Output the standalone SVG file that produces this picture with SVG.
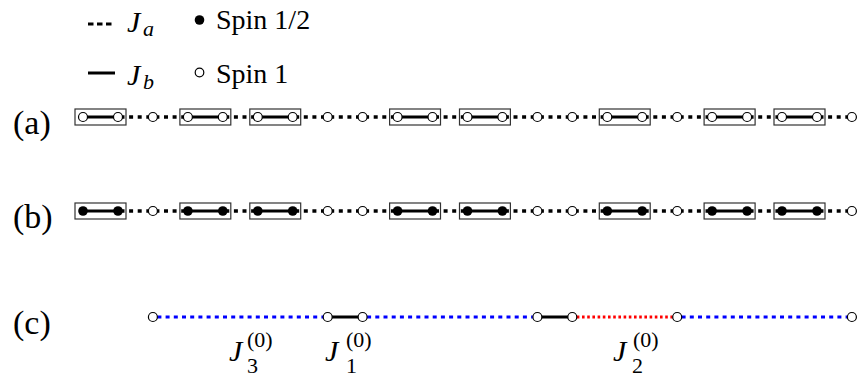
<svg xmlns="http://www.w3.org/2000/svg" width="860" height="379" viewBox="0 0 860 379">
<defs>
<circle id="open" r="4.5" fill="#fff" stroke="#000" stroke-width="1.2"/>
<circle id="full" r="4.8" fill="#000"/>
</defs>
<g id="legend" fill="#000">
<line x1="88" y1="24" x2="112" y2="24" stroke="#000" stroke-width="3" stroke-dasharray="5.5 3.5"/>
<text x="127" y="32" font-family="Liberation Serif" font-size="30" font-style="italic">J</text>
<text x="143" y="36" font-family="Liberation Serif" font-size="22" font-style="italic">a</text>
<circle cx="199.5" cy="20" r="4.8" fill="#000"/>
<text x="216" y="29" font-family="Liberation Serif" font-size="28">Spin 1/2</text>
<line x1="88" y1="73" x2="115" y2="73" stroke="#000" stroke-width="3"/>
<text x="127" y="85" font-family="Liberation Serif" font-size="30" font-style="italic">J</text>
<text x="143" y="89" font-family="Liberation Serif" font-size="22" font-style="italic">b</text>
<circle cx="199.5" cy="72.5" r="4.3" fill="#fff" stroke="#000" stroke-width="1.2"/>
<text x="216" y="83" font-family="Liberation Serif" font-size="28">Spin 1</text>
</g>
<g id="labels" fill="#000">
<text x="13" y="134" font-family="Liberation Serif" font-size="34">(a)</text>
<text x="13" y="228" font-family="Liberation Serif" font-size="34">(b)</text>
<text x="13" y="334" font-family="Liberation Serif" font-size="34">(c)</text>
</g>
<g id="connectors">
<g stroke="#000" stroke-width="3.4" stroke-dasharray="4 4.6" stroke-dashoffset="-2.5" fill="none">
<line x1="118" y1="117" x2="152.9" y2="117"/>
<line x1="152.9" y1="117" x2="187.9" y2="117"/>
<line x1="222.8" y1="117" x2="257.8" y2="117"/>
<line x1="292.7" y1="117" x2="327.7" y2="117"/>
<line x1="327.7" y1="117" x2="362.6" y2="117"/>
<line x1="362.6" y1="117" x2="397.6" y2="117"/>
<line x1="432.5" y1="117" x2="467.5" y2="117"/>
<line x1="502.4" y1="117" x2="537.4" y2="117"/>
<line x1="537.4" y1="117" x2="572.3" y2="117"/>
<line x1="572.3" y1="117" x2="607.3" y2="117"/>
<line x1="642.2" y1="117" x2="677.2" y2="117"/>
<line x1="677.2" y1="117" x2="712.1" y2="117"/>
<line x1="747.1" y1="117" x2="782" y2="117"/>
<line x1="817" y1="117" x2="851.9" y2="117"/>
<line x1="118" y1="211" x2="152.9" y2="211"/>
<line x1="152.9" y1="211" x2="187.9" y2="211"/>
<line x1="222.8" y1="211" x2="257.8" y2="211"/>
<line x1="292.7" y1="211" x2="327.7" y2="211"/>
<line x1="327.7" y1="211" x2="362.6" y2="211"/>
<line x1="362.6" y1="211" x2="397.6" y2="211"/>
<line x1="432.5" y1="211" x2="467.5" y2="211"/>
<line x1="502.4" y1="211" x2="537.4" y2="211"/>
<line x1="537.4" y1="211" x2="572.3" y2="211"/>
<line x1="572.3" y1="211" x2="607.3" y2="211"/>
<line x1="642.2" y1="211" x2="677.2" y2="211"/>
<line x1="677.2" y1="211" x2="712.1" y2="211"/>
<line x1="747.1" y1="211" x2="782" y2="211"/>
<line x1="817" y1="211" x2="851.9" y2="211"/>
</g>
<g stroke="#000" stroke-width="2.8" fill="none">
<line x1="83" y1="117" x2="118" y2="117"/>
<line x1="187.9" y1="117" x2="222.8" y2="117"/>
<line x1="257.8" y1="117" x2="292.7" y2="117"/>
<line x1="397.6" y1="117" x2="432.5" y2="117"/>
<line x1="467.5" y1="117" x2="502.4" y2="117"/>
<line x1="607.3" y1="117" x2="642.2" y2="117"/>
<line x1="712.1" y1="117" x2="747.1" y2="117"/>
<line x1="782" y1="117" x2="817" y2="117"/>
<line x1="83" y1="211" x2="118" y2="211"/>
<line x1="187.9" y1="211" x2="222.8" y2="211"/>
<line x1="257.8" y1="211" x2="292.7" y2="211"/>
<line x1="397.6" y1="211" x2="432.5" y2="211"/>
<line x1="467.5" y1="211" x2="502.4" y2="211"/>
<line x1="607.3" y1="211" x2="642.2" y2="211"/>
<line x1="712.1" y1="211" x2="747.1" y2="211"/>
<line x1="782" y1="211" x2="817" y2="211"/>
<line x1="327.7" y1="317" x2="362.6" y2="317" stroke-width="3"/>
<line x1="537.4" y1="317" x2="572.3" y2="317" stroke-width="3"/>
</g>
<g stroke="#00f" stroke-width="3" stroke-dasharray="4 4.2" fill="none">
<line x1="157.4" y1="317" x2="323.1" y2="317"/>
<line x1="367.1" y1="317" x2="532.8" y2="317"/>
<line x1="681.6" y1="317" x2="847.4" y2="317"/>
</g>
<line x1="576.8" y1="317" x2="672.6" y2="317" stroke="#f00" stroke-width="3" stroke-dasharray="2.6 2.6"/>
</g>
<g id="boxes" fill="none" stroke="#333" stroke-width="1.2">
<rect id="a-box0" x="75" y="109" width="51" height="16"/>
<rect id="a-box3" x="179.9" y="109" width="50.9" height="16"/>
<rect id="a-box5" x="249.8" y="109" width="50.9" height="16"/>
<rect id="a-box9" x="389.6" y="109" width="50.9" height="16"/>
<rect id="a-box11" x="459.5" y="109" width="50.9" height="16"/>
<rect id="a-box15" x="599.3" y="109" width="50.9" height="16"/>
<rect id="a-box18" x="704.1" y="109" width="51" height="16"/>
<rect id="a-box20" x="774" y="109" width="51" height="16"/>
<rect id="b-box0" x="75" y="203" width="51" height="16"/>
<rect id="b-box3" x="179.9" y="203" width="50.9" height="16"/>
<rect id="b-box5" x="249.8" y="203" width="50.9" height="16"/>
<rect id="b-box9" x="389.6" y="203" width="50.9" height="16"/>
<rect id="b-box11" x="459.5" y="203" width="50.9" height="16"/>
<rect id="b-box15" x="599.3" y="203" width="50.9" height="16"/>
<rect id="b-box18" x="704.1" y="203" width="51" height="16"/>
<rect id="b-box20" x="774" y="203" width="51" height="16"/>
</g>
<g id="row-a">
<g id="a0"><use href="#open" x="83" y="117"/></g>
<g id="a1"><use href="#open" x="118" y="117"/></g>
<g id="a2"><use href="#open" x="152.9" y="117"/></g>
<g id="a3"><use href="#open" x="187.9" y="117"/></g>
<g id="a4"><use href="#open" x="222.8" y="117"/></g>
<g id="a5"><use href="#open" x="257.8" y="117"/></g>
<g id="a6"><use href="#open" x="292.7" y="117"/></g>
<g id="a7"><use href="#open" x="327.7" y="117"/></g>
<g id="a8"><use href="#open" x="362.6" y="117"/></g>
<g id="a9"><use href="#open" x="397.6" y="117"/></g>
<g id="a10"><use href="#open" x="432.5" y="117"/></g>
<g id="a11"><use href="#open" x="467.5" y="117"/></g>
<g id="a12"><use href="#open" x="502.4" y="117"/></g>
<g id="a13"><use href="#open" x="537.4" y="117"/></g>
<g id="a14"><use href="#open" x="572.3" y="117"/></g>
<g id="a15"><use href="#open" x="607.3" y="117"/></g>
<g id="a16"><use href="#open" x="642.2" y="117"/></g>
<g id="a17"><use href="#open" x="677.2" y="117"/></g>
<g id="a18"><use href="#open" x="712.1" y="117"/></g>
<g id="a19"><use href="#open" x="747.1" y="117"/></g>
<g id="a20"><use href="#open" x="782" y="117"/></g>
<g id="a21"><use href="#open" x="817" y="117"/></g>
<g id="a22"><use href="#open" x="851.9" y="117"/></g>
</g>
<g id="row-b">
<g id="b0"><use href="#full" x="83" y="211"/></g>
<g id="b1"><use href="#full" x="118" y="211"/></g>
<g id="b2"><use href="#open" x="152.9" y="211"/></g>
<g id="b3"><use href="#full" x="187.9" y="211"/></g>
<g id="b4"><use href="#full" x="222.8" y="211"/></g>
<g id="b5"><use href="#full" x="257.8" y="211"/></g>
<g id="b6"><use href="#full" x="292.7" y="211"/></g>
<g id="b7"><use href="#open" x="327.7" y="211"/></g>
<g id="b8"><use href="#open" x="362.6" y="211"/></g>
<g id="b9"><use href="#full" x="397.6" y="211"/></g>
<g id="b10"><use href="#full" x="432.5" y="211"/></g>
<g id="b11"><use href="#full" x="467.5" y="211"/></g>
<g id="b12"><use href="#full" x="502.4" y="211"/></g>
<g id="b13"><use href="#open" x="537.4" y="211"/></g>
<g id="b14"><use href="#open" x="572.3" y="211"/></g>
<g id="b15"><use href="#full" x="607.3" y="211"/></g>
<g id="b16"><use href="#full" x="642.2" y="211"/></g>
<g id="b17"><use href="#open" x="677.2" y="211"/></g>
<g id="b18"><use href="#full" x="712.1" y="211"/></g>
<g id="b19"><use href="#full" x="747.1" y="211"/></g>
<g id="b20"><use href="#full" x="782" y="211"/></g>
<g id="b21"><use href="#full" x="817" y="211"/></g>
<g id="b22"><use href="#open" x="851.9" y="211"/></g>
</g>
<g id="row-c">
<g id="c2"><use href="#open" x="152.9" y="317"/></g>
<g id="c7"><use href="#open" x="327.7" y="317"/></g>
<g id="c8"><use href="#open" x="362.6" y="317"/></g>
<g id="c13"><use href="#open" x="537.4" y="317"/></g>
<g id="c14"><use href="#open" x="572.3" y="317"/></g>
<g id="c17"><use href="#open" x="677.2" y="317"/></g>
<g id="c22"><use href="#open" x="851.9" y="317"/></g>
</g>
<g id="c-labels" fill="#000">
<text x="229" y="361" font-family="Liberation Serif" font-size="30" font-style="italic">J</text>
<text x="247" y="373" font-family="Liberation Serif" font-size="22">3</text>
<text x="247" y="347" font-family="Liberation Serif" font-size="22">(0)</text>
<text x="325" y="361" font-family="Liberation Serif" font-size="30" font-style="italic">J</text>
<text x="346" y="373" font-family="Liberation Serif" font-size="22">1</text>
<text x="346" y="347" font-family="Liberation Serif" font-size="22">(0)</text>
<text x="613" y="361" font-family="Liberation Serif" font-size="30" font-style="italic">J</text>
<text x="632" y="373" font-family="Liberation Serif" font-size="22">2</text>
<text x="633" y="347" font-family="Liberation Serif" font-size="22">(0)</text>
</g>
</svg>
